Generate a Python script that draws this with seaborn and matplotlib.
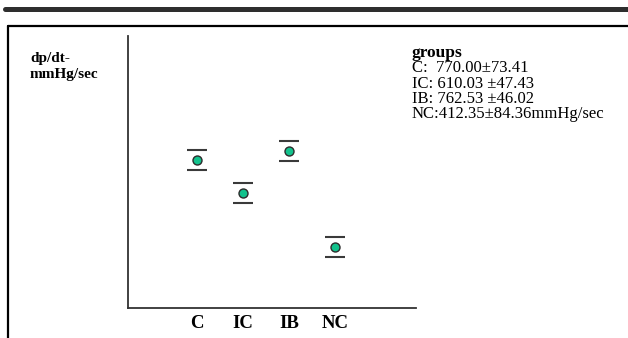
import matplotlib
matplotlib.use("Agg")
import matplotlib.pyplot as plt
from matplotlib.lines import Line2D
import seaborn as sns
import pandas as pd

# values (arbitrary scale, axis has no ticks)
groups = ["C", "IC", "IB", "NC"]
plotted = [544, 423, 577, 224]
cap_offset = [37, 37, 37, 37]

legend_title = "groups"
legend_lines = ["C:  770.00\u00b173.41",
                "IC: 610.03 \u00b147.43",
                "IB: 762.53 \u00b146.02",
                "NC:412.35\u00b184.36mmHg/sec"]

df = pd.DataFrame({"group": groups, "value": plotted, "err": cap_offset})

sns.set_style("white")
plt.rcParams['font.family'] = ['Liberation Serif', 'DejaVu Serif']
plt.rcParams['text.color'] = 'black'
plt.rcParams['xtick.labelcolor'] = 'black'

fig = plt.figure(figsize=(6.28, 3.38), dpi=100)
ax = fig.add_axes([128 / 628, 30 / 338, 288 / 628, 272 / 338])

# caps only, no vertical bar
ax.errorbar(range(len(groups)), df["value"], yerr=df["err"], fmt="none",
            ecolor="#3a3a3a", elinewidth=0, capsize=7.5, capthick=1.5)
sns.scatterplot(data=df, x="group", y="value", ax=ax, s=42,
                color="#12c28c", edgecolor="#2b2b2b", linewidth=1.0, zorder=3)

ax.set_xlim(-1.5, 4.76)
ax.set_ylim(0, 1000)
ax.set_yticks([])
ax.set_xticks(range(len(groups)))
ax.set_xticklabels(groups, fontsize=13.5, fontweight="bold", color="black")
ax.tick_params(axis="x", length=0, pad=5)
ax.set_xlabel("")
ax.set_ylabel("")
for s in ["top", "right"]:
    ax.spines[s].set_visible(False)
for s in ["left", "bottom"]:
    ax.spines[s].set_color("#333333")
    ax.spines[s].set_linewidth(1.3)

# y label at top left
fig.text(30 / 628, 1 - 52 / 338, "dp/dt-\nmmHg/sec", fontsize=11,
         fontweight="bold", va="top", ha="left", linespacing=1.3)

# group summary text, one line per group
fig.text(412 / 628, 1 - 57 / 338, legend_title, fontsize=12.5,
         fontweight="bold", va="baseline", ha="left")
for i, line in enumerate(legend_lines):
    fig.text(412 / 628, 1 - (72.5 + 15.3 * i) / 338, line, fontsize=12,
             va="baseline", ha="left")

# page decoration: dark rule and frame corner
fig.add_artist(Line2D([5 / 628, 1], [1 - 9 / 338] * 2, color="#2e2e2e",
                      lw=3.6, transform=fig.transFigure))
fig.add_artist(Line2D([8 / 628, 1], [1 - 25.5 / 338] * 2, color="black",
                      lw=1.6, transform=fig.transFigure))
fig.add_artist(Line2D([8 / 628] * 2, [1 - 25.5 / 338, 0], color="black",
                      lw=1.6, transform=fig.transFigure))

fig.savefig("out.png", dpi=100)
